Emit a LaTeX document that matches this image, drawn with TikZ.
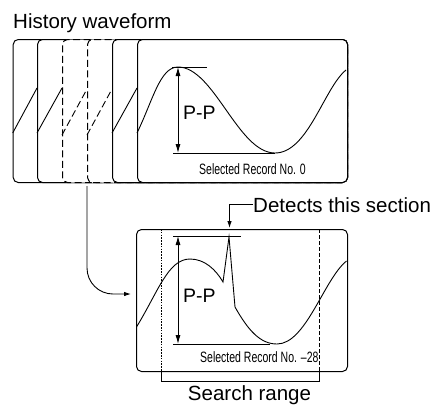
\documentclass[tikz,border=0pt]{standalone}
\usepackage{fontspec}
\setmainfont{Liberation Sans}
\usetikzlibrary{arrows.meta}
\begin{document}
\begin{tikzpicture}[x=1pt,y=-1pt,
  panel/.style={draw, fill=white, rounded corners=5pt, line width=1pt, minimum height=143pt, inner sep=0pt, anchor=north west},
  dpanel/.style={panel, dash pattern=on 7pt off 3.5pt},
  wave/.style={line width=0.9pt},
  dwave/.style={line width=0.9pt, dash pattern=on 7pt off 3.5pt},
  arr/.style={line width=0.9pt, -{Latex[length=7pt,width=4.5pt]}},
  pp/.style={line width=0.9pt, {Latex[length=9pt,width=5pt]}-{Latex[length=9pt,width=5pt]}},
  big/.style={font=\fontsize{20.5}{24}\selectfont, inner sep=0pt},
  ppfont/.style={font=\fontsize{19.5}{22}\selectfont, inner sep=0pt},
  small/.style={inner sep=0pt}
]
\useasboundingbox (0,0) rectangle (438,405);

\node[big, anchor=base west] (title) at (13,28) {History waveform};

% stack of history panels
\node[panel, minimum width=334pt] (p1) at (12.7,39) {};
\draw[wave] (12.7,133) -- (37,88);
\node[panel, minimum width=310pt] (p2) at (37,39) {};
\draw[wave] (37,133) -- (62,88);
\node[dpanel, minimum width=285pt] (p3) at (62,39) {};
\draw[dwave] (62,135) -- (87,89);
\node[dpanel, minimum width=260pt] (p4) at (87,39) {};
\draw[dwave] (87,135) -- (112,89);
\node[panel, minimum width=235pt] (p5) at (112,39) {};
\draw[wave] (112,133) -- (137,88);
\node[panel, minimum width=210pt] (p6) at (137,39) {};

% main top waveform
\draw[wave] (137,133) .. controls (153,100) and (160,67) .. (178,67)
  .. controls (214,67) and (238,153) .. (275,153)
  .. controls (308,153) and (324,88) .. (346,70);
\draw[line width=0.9pt] (172,67) -- (207,67);
\draw[line width=0.9pt] (173,153) -- (275,153);
\draw[pp] (178,67) -- (178,153);
\node[ppfont, anchor=base west] (pp1) at (183,119) {P-P};
\node[small, anchor=base west] (sel1) at (199,174) {\scalebox{0.7}[1]{\fontsize{15}{17}\selectfont Selected Record No. 0}};

% bottom panel
\node[panel, minimum width=211pt, minimum height=142pt] (bot) at (136,229) {};
\draw[line width=1pt, dash pattern=on 1.5pt off 1.3pt] (161,229) -- (161,371);
\draw[line width=0.9pt, dash pattern=on 4pt off 2pt] (319,229) -- (319,371);
\draw[wave] (136.5,327) .. controls (158,292) and (168,259) .. (190,259)
  .. controls (205,259) and (216,270) .. (223,282) -- (229,237) -- (235,307)
  .. controls (248,330) and (260,344) .. (277,344)
  .. controls (306,344) and (324,279) .. (346.5,261);
\draw[line width=0.9pt] (173,236) -- (241,236);
\draw[line width=0.9pt] (173,344) -- (270,344);
\draw[pp] (178,236) -- (178,344);
\node[ppfont, anchor=base west] (pp2) at (183,302) {P-P};
\node[small, anchor=base west] (sel2) at (200,362) {\scalebox{0.7}[1]{\fontsize{15}{17}\selectfont Selected Record No. --28}};

% search range bracket
\draw[line width=0.9pt] (161,371) -- (161,381.5) -- (319,381.5) -- (319,371);
\node[big, anchor=base] (sr) at (249.5,400) {Search range};

% detects this section
\node[big, anchor=base west] (det) at (253,212) {Detects this section};
\coordinate (spk) at (229.5,228);
\draw[arr] (det.west) -| (spk);

% connector from history to bottom panel
\coordinate (c0) at (87,186);
\coordinate (c1) at (131,294);
\draw[arr, rounded corners=26pt] (c0) |- (c1);
\end{tikzpicture}
\end{document}
